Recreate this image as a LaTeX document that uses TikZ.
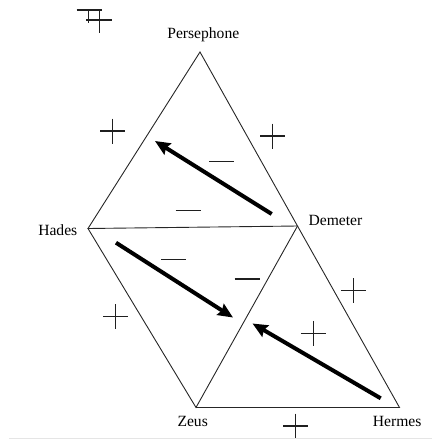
\documentclass[tikz,border=0pt]{standalone}
\usepackage{fontspec}
\setmainfont{Liberation Serif}
\usetikzlibrary{arrows.meta}
\tikzset{
  edge/.style={line width=0.9pt, draw=black!85},
  signline/.style={line width=1.5pt, draw=black!88},
  bigarrow/.style={line width=4pt, -{Stealth[length=15pt,width=13pt,inset=2pt]}},
  lbl/.style={anchor=base, inner sep=0pt, font=\fontsize{15.6}{18}\selectfont},
  pics/plussign/.style={code={\draw[signline] (-12.5,0)--(12.5,0) (0,-12.5)--(0,12.5);}},
  pics/minussign/.style={code={\draw[signline] (-12.5,0)--(12.5,0);}}
}
\begin{document}
\begin{tikzpicture}[x=1pt,y=-1pt]
\useasboundingbox (0,0) rectangle (432,440);
% vertices
\coordinate (P) at (200,52);
\coordinate (H) at (88,228.5);
\coordinate (D) at (297.5,226);
\coordinate (Z) at (196,407.5);
\coordinate (R) at (399.5,407.5);
% triangles
\draw[edge] (P) -- (H) -- (D) -- cycle;
\draw[edge] (H) -- (Z) -- (D);
\draw[edge] (Z) -- (R) -- (D);
% labels
\node[lbl] (lp) at (203.3,38.3) {Persephone};
\node[lbl] (lh) at (57.8,235) {Hades};
\node[lbl] (ld) at (335.5,225) {Demeter};
\node[lbl] (lz) at (192.7,426.7) {Zeus};
\node[lbl] (lr) at (397.2,426.7) {Hermes};
% arrows
\coordinate (a1s) at (271.7,214);
\coordinate (a1e) at (155,141);
\coordinate (a2s) at (116,242.7);
\coordinate (a2e) at (233,317.5);
\coordinate (a3s) at (380.7,398.3);
\coordinate (a3e) at (252.5,323.5);
\draw[bigarrow] (a1s) -- (a1e);
\draw[bigarrow] (a2s) -- (a2e);
\draw[bigarrow] (a3s) -- (a3e);
% signs
\pic at (112.7,131) {plussign};
\pic at (272.7,136) {plussign};
\pic at (115.7,316.5) {plussign};
\pic at (353.3,290.7) {plussign};
\pic at (313.3,333.3) {plussign};
\pic at (295.7,426) {plussign};
\pic at (221.5,161.7) {minussign};
\pic at (188,210.7) {minussign};
\pic at (173.5,259.3) {minussign};
\pic at (247,279) {minussign};
% top-left fragment
\draw[signline] (76.7,10) -- (101.7,10);
\draw[signline] (86,20) -- (111.7,20);
\draw[signline] (88.5,10) -- (88.5,22.5);
\draw[signline] (99.3,9) -- (99.3,33);
% bottom rule
\draw[line width=0.8pt, draw=black!10] (9,438.5) -- (432,438.5);
\end{tikzpicture}
\end{document}
